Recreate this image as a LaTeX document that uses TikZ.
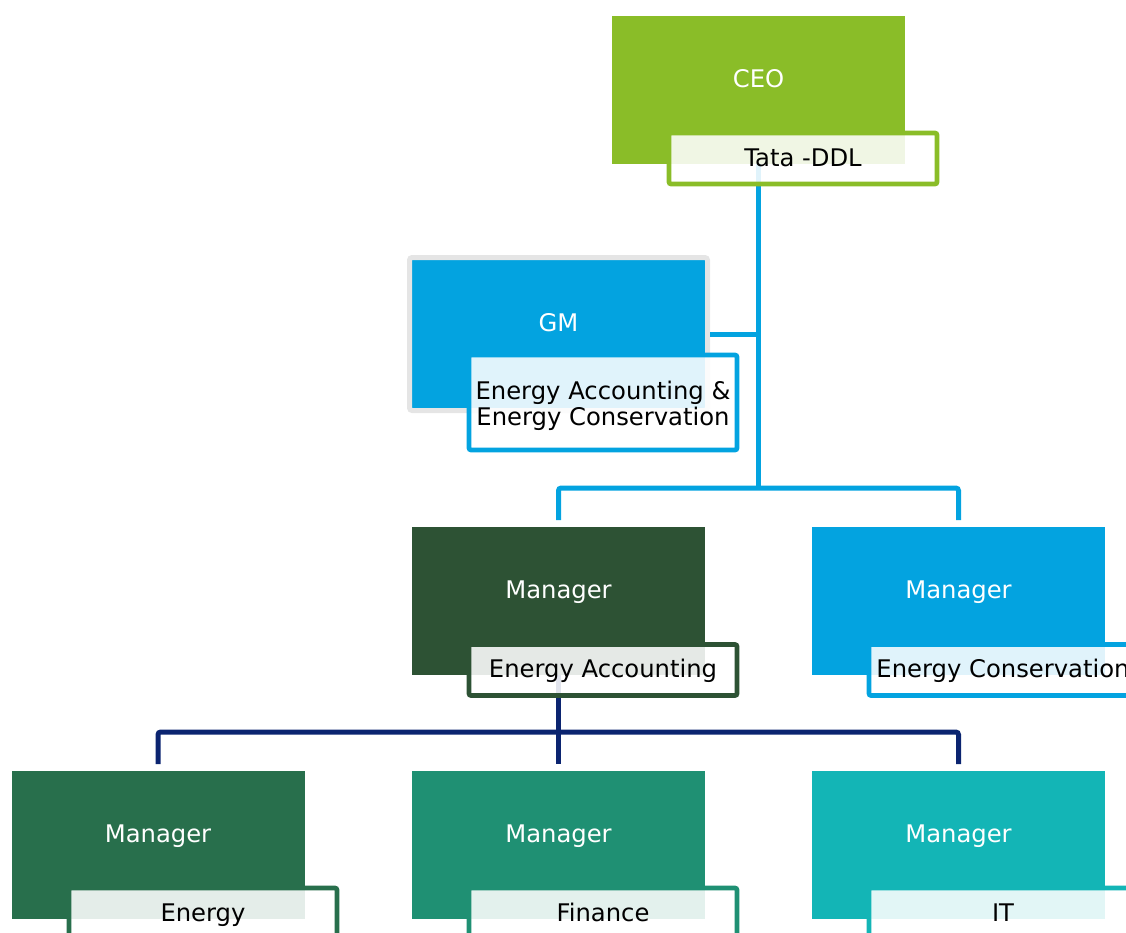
\documentclass[tikz,border=0pt]{standalone}
\usepackage{fontspec}
\setmainfont{DejaVu Sans}
\definecolor{ceogreen}{HTML}{8ABD28}
\definecolor{gmblue}{HTML}{03A3E0}
\definecolor{darkgreen}{HTML}{2D5234}
\definecolor{midgreen}{HTML}{286F4C}
\definecolor{teal1}{HTML}{1F9073}
\definecolor{teal2}{HTML}{13B5B6}
\definecolor{navyline}{HTML}{0B2470}
\definecolor{shadowgrey}{HTML}{E5E5E5}
\begin{document}
\begin{tikzpicture}[x=0.75pt,y=-0.75pt,
  mainbox/.style={fill=#1, draw=none, minimum width=219.75pt, minimum height=111pt, inner sep=0pt, outer sep=0pt},
  mtext/.style={text=white, font=\fontsize{18.2}{21}\selectfont, text height=0.76em, text depth=0.24em, yshift=4.2pt},
  subbox/.style={draw=#1, line width=3.5pt, fill=white, fill opacity=0.88, text opacity=1, draw opacity=1,
     rounded corners=1.5pt, minimum width=201pt, minimum height=38.25pt, inner sep=0pt, outer sep=0pt,
     text=black, font=\fontsize{18.2}{20}\selectfont, text height=1.4em, text depth=0.24em},
  conn/.style={line width=3.75pt, rounded corners=2pt}]
\useasboundingbox (0,0) rectangle (1126,932);
\clip (0,0) rectangle (1126,932);
% main boxes
\node[mainbox=ceogreen, label={[mtext]center:CEO}] (ceo) at (758.5,90) {};
\node[mainbox=gmblue, draw=shadowgrey, line width=3.75pt, rounded corners=2pt,
      minimum width=223.5pt, minimum height=114.75pt, label={[mtext]center:GM}] (gm) at (558.5,334) {};
\node[mainbox=darkgreen, label={[mtext]center:Manager}] (mea) at (558.5,601) {};
\node[mainbox=gmblue, label={[mtext]center:Manager}] (mec) at (958.5,601) {};
\node[mainbox=midgreen, label={[mtext]center:Manager}] (b1) at (158,845) {};
\node[mainbox=teal1, label={[mtext]center:Manager}] (b2) at (558.5,845) {};
\node[mainbox=teal2, label={[mtext]center:Manager}] (b3) at (958.5,845) {};
% connectors
\coordinate (lvl1) at (0,488);
\coordinate (lvl2) at (0,732);
\draw[conn, gmblue] (ceo.south) -- (ceo.south |- lvl1);
\draw[conn, gmblue] ([yshift=5.25pt]mea.north) |- (ceo.south |- lvl1) -| ([yshift=5.25pt]mec.north);
\draw[conn, gmblue] ([xshift=1.9pt]gm.east) -- (gm.east -| ceo.south);
\draw[conn, navyline] (mea.south) -- ([yshift=5.25pt]b2.north);
\draw[conn, navyline] ([yshift=5.25pt]b1.north) |- (mea.south |- lvl2) -| ([yshift=5.25pt]b3.north);
% sub boxes
\node[subbox=ceogreen] (ceosub) at (803,158.5) {Tata -DDL};
\node[subbox=gmblue, minimum height=71.25pt,
  label={[align=center, text=black, font=\fontsize{18.2}{19.5}\selectfont, yshift=-2.4pt]center:Energy Accounting \&\\Energy Conservation}]
  (gmsub) at (603,402.5) {};
\node[subbox=darkgreen] (measub) at (603,670) {Energy Accounting};
\node[subbox=gmblue] (mecsub) at (1003,670) {Energy Conservation};
\node[subbox=midgreen] (b1sub) at (203,913.5) {Energy};
\node[subbox=teal1] (b2sub) at (603,913.5) {Finance};
\node[subbox=teal2] (b3sub) at (1003,913.5) {IT};
\end{tikzpicture}
\end{document}
